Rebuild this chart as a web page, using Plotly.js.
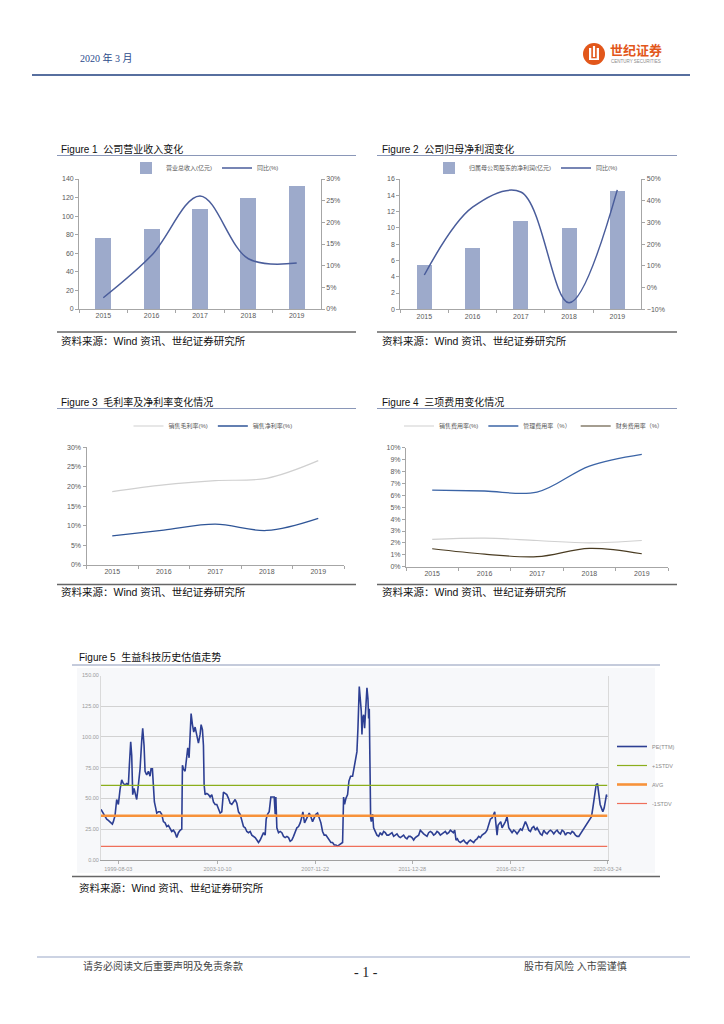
<!DOCTYPE html>
<html><head><meta charset="utf-8">
<script src="https://cdn.plot.ly/plotly-3.0.1.min.js"></script>
<style>html,body{margin:0;padding:0;background:#fff;}#chart{width:724px;height:1024px;}</style>
</head><body><div id="chart"></div>
<script>
// ---------- data ----------
const years = ['2015', '2016', '2017', '2018', '2019'];
const revenue = [76, 86, 108, 119.5, 132.5];
const revenueYoY = [0.026, 0.124, 0.261, 0.116, 0.106];
const netProfit = [5.5, 7.5, 10.8, 10.0, 14.5];
const netProfitYoY = [0.058, 0.37, 0.44, -0.07, 0.45];
const grossMargin = [0.187, 0.204, 0.215, 0.221, 0.266];
const netMargin = [0.074, 0.089, 0.104, 0.088, 0.119];
const sellingRate = [0.023, 0.024, 0.022, 0.020, 0.022];
const adminRate = [0.0644, 0.0636, 0.0627, 0.0846, 0.0944];
const financeRate = [0.0151, 0.0106, 0.0084, 0.0154, 0.0109];

const peTime = [1998.855,1998.954,1999.024,1999.095,1999.165,1999.236,1999.306,1999.334,1999.376,1999.447,1999.517,1999.588,1999.658,1999.728,1999.799,1999.869,1999.940,2000.010,2000.052,2000.108,2000.151,2000.193,2000.249,2000.291,2000.362,2000.432,2000.503,2000.573,2000.615,2000.672,2000.714,2000.784,2000.855,2000.925,2000.967,2001.024,2001.066,2001.108,2001.164,2001.207,2001.277,2001.347,2001.418,2001.488,2001.559,2001.629,2001.699,2001.770,2001.840,2001.911,2001.981,2002.051,2002.122,2002.192,2002.263,2002.291,2002.333,2002.403,2002.474,2002.516,2002.572,2002.615,2002.657,2002.713,2002.769,2002.826,2002.896,2002.966,2003.037,2003.079,2003.135,2003.178,2003.206,2003.248,2003.318,2003.389,2003.459,2003.530,2003.600,2003.670,2003.741,2003.811,2003.882,2003.952,2004.022,2004.093,2004.163,2004.234,2004.304,2004.375,2004.445,2004.515,2004.586,2004.656,2004.727,2004.797,2004.867,2004.938,2005.008,2005.079,2005.149,2005.219,2005.290,2005.360,2005.431,2005.501,2005.571,2005.642,2005.712,2005.782,2005.825,2005.881,2005.951,2006.022,2006.092,2006.163,2006.205,2006.233,2006.275,2006.346,2006.416,2006.486,2006.557,2006.627,2006.698,2006.768,2006.838,2006.909,2006.979,2007.050,2007.120,2007.190,2007.261,2007.331,2007.373,2007.444,2007.514,2007.585,2007.641,2007.711,2007.782,2007.852,2007.922,2007.993,2008.063,2008.134,2008.204,2008.274,2008.345,2008.415,2008.486,2008.556,2008.626,2008.697,2008.767,2008.838,2008.908,2008.978,2009.049,2009.091,2009.133,2009.190,2009.260,2009.316,2009.387,2009.471,2009.528,2009.584,2009.654,2009.697,2009.725,2009.753,2009.795,2009.837,2009.866,2009.894,2009.936,2009.978,2010.035,2010.077,2010.119,2010.147,2010.175,2010.203,2010.232,2010.260,2010.316,2010.358,2010.429,2010.499,2010.570,2010.640,2010.710,2010.780,2010.851,2010.921,2010.992,2011.062,2011.133,2011.203,2011.273,2011.344,2011.414,2011.485,2011.555,2011.625,2011.696,2011.766,2011.837,2011.907,2011.977,2012.048,2012.118,2012.189,2012.259,2012.329,2012.400,2012.470,2012.540,2012.611,2012.681,2012.752,2012.822,2012.893,2012.963,2013.033,2013.104,2013.174,2013.244,2013.315,2013.385,2013.456,2013.526,2013.596,2013.667,2013.723,2013.779,2013.836,2013.892,2013.948,2014.018,2014.089,2014.160,2014.230,2014.300,2014.371,2014.441,2014.512,2014.582,2014.652,2014.722,2014.793,2014.863,2014.934,2015.004,2015.074,2015.144,2015.215,2015.285,2015.356,2015.426,2015.468,2015.525,2015.567,2015.609,2015.665,2015.722,2015.778,2015.848,2015.919,2015.989,2016.060,2016.130,2016.200,2016.271,2016.341,2016.412,2016.482,2016.552,2016.623,2016.693,2016.763,2016.834,2016.904,2016.975,2017.045,2017.115,2017.186,2017.256,2017.327,2017.397,2017.467,2017.538,2017.608,2017.678,2017.749,2017.819,2017.890,2017.960,2018.031,2018.101,2018.171,2018.242,2018.312,2018.383,2018.453,2018.524,2018.594,2018.664,2018.734,2018.805,2018.875,2018.946,2019.016,2019.087,2019.157,2019.227,2019.298,2019.368,2019.438,2019.495,2019.551,2019.607,2019.692,2019.748,2019.804,2019.861,2019.917,2019.973,2020.030,2020.086,2020.142,2020.185,2020.227];
const peValue = [41,38,35,33,32,31,30,29,31,36,49,45,57,65,62,61,62,61,77,96,85,53,58,54,49,61,74,97,107,93,72,69,72,68,74,74,58,47,42,38,39,39,37,31,30,27,28,26,23,24,22,18,22,24,25,77,74,72,85,91,83,107,119,110,104,108,100,95,102,110,106,93,61,53,54,53,51,53,47,45,45,42,38,39,55,54,53,50,46,45,47,49,46,39,37,31,27,26,23,22,23,20,19,18,16,14,16,19,22,20,33,37,39,51,51,51,37,51,26,22,23,22,19,18,19,18,15,16,19,23,26,27,30,35,39,30,33,37,38,35,31,34,37,38,34,30,23,20,20,18,15,14,14,12,12,11,12,13,14,51,45,50,53,64,68,68,74,80,88,107,123,141,131,121,102,115,118,107,126,140,131,115,123,74,34,31,37,26,23,20,19,22,20,23,22,20,20,21,22,19,20,21,19,18,19,20,18,17,19,19,18,16,18,19,20,24,22,21,20,19,22,23,22,20,21,23,22,20,21,22,23,21,22,24,23,22,24,16,17,15,14,15,16,14,13,15,16,15,14,16,17,19,18,20,21,22,24,28,33,34,37,39,28,20,28,30,31,26,28,31,35,26,24,22,24,23,21,23,25,24,27,31,28,24,23,26,27,24,26,23,21,20,24,22,21,23,24,23,21,23,24,22,21,24,23,20,22,22,21,23,22,20,19,19,21,23,25,28,29,31,33,35,42,55,61,62,53,45,42,39,42,47,53,51];
const peStdPlus = 60.6;
const peAvg = 35.8;
const peStdMinus = 10.9;
const peTickTimes = [1999.586, 2003.775, 2007.893, 2011.990, 2016.129, 2020.227];
const peTickLabels = ['1999-08-03', '2003-10-10', '2007-11-22', '2011-12-28', '2016-02-17', '2020-03-24'];

// ---------- helpers ----------
const W = 724, H = 1024;
const px = v => v / W;
const py = v => 1 - v / H;
const SANS = 'Liberation Sans, Arial, Noto Sans CJK SC, sans-serif';
const CJK = 'Liberation Sans, Noto Sans CJK SC, sans-serif';
const AX = '#A6A6A6';
const TICKF = {family: SANS, size: 7, color: '#595959'};

function ann(text, x, y, size, color, extra) {
  return Object.assign({text: text, xref: 'paper', yref: 'paper', x: px(x), y: py(y),
    xanchor: 'left', yanchor: 'middle', showarrow: false,
    font: {family: CJK, size: size, color: color}}, extra || {});
}
function hline(x0, x1, y, color, width) {
  return {type: 'line', xref: 'paper', yref: 'paper', x0: px(x0), x1: px(x1), y0: py(y), y1: py(y),
    line: {color: color, width: width}};
}
function rect(x0, x1, y0, y1, fill, layer) {
  return {type: 'rect', xref: 'paper', yref: 'paper', x0: px(x0), x1: px(x1), y0: py(y1), y1: py(y0),
    fillcolor: fill, line: {width: 0}, layer: layer || 'below'};
}
function catAxis(d0, d1, anchor) {
  return {domain: [px(d0), px(d1)], anchor: anchor, type: 'category', range: [-0.5, 4.5],
    showline: true, linecolor: AX, linewidth: 1, ticks: 'outside', ticklen: 3, tickcolor: AX,
    tickson: 'boundaries', tickfont: TICKF, showgrid: false, zeroline: false, fixedrange: true};
}
function valAxis(top, bottom, anchor, range, dtick, fmt, extra) {
  return Object.assign({domain: [py(bottom), py(top)], anchor: anchor, range: range, dtick: dtick,
    tickformat: fmt, showline: true, linecolor: AX, linewidth: 1, ticks: 'outside', ticklen: 3,
    tickcolor: AX, tickfont: TICKF, showgrid: false, zeroline: false, fixedrange: true}, extra || {});
}
function legendAt(x, y, extra) {
  return Object.assign({x: px(x), y: py(y), xanchor: 'center', yanchor: 'middle', orientation: 'h',
    font: {family: CJK, size: 6, color: '#595959'}, bgcolor: 'rgba(0,0,0,0)', itemwidth: 30,
    tracegroupgap: 0, itemclick: false}, extra || {});
}

const barColor = '#9DAACB';
const lineBlue = '#4A5D9B';

const traces = [
  // Figure 1
  {type: 'bar', x: years, y: revenue, xaxis: 'x', yaxis: 'y', width: 0.33,
   marker: {color: barColor}, name: '营业总收入(亿元)', legend: 'legend'},
  {type: 'scatter', mode: 'lines', x: years, y: revenueYoY, xaxis: 'x', yaxis: 'y2',
   line: {color: lineBlue, width: 1.5, shape: 'spline', smoothing: 1}, name: '同比(%)', legend: 'legend'},
  // Figure 2
  {type: 'bar', x: years, y: netProfit, xaxis: 'x3', yaxis: 'y3', width: 0.31,
   marker: {color: barColor}, name: '归属母公司股东的净利润(亿元)', legend: 'legend2'},
  {type: 'scatter', mode: 'lines', x: years, y: netProfitYoY, xaxis: 'x3', yaxis: 'y4',
   line: {color: lineBlue, width: 1.5, shape: 'spline', smoothing: 1}, name: '同比(%)', legend: 'legend2'},
  // Figure 3
  {type: 'scatter', mode: 'lines', x: years, y: grossMargin, xaxis: 'x5', yaxis: 'y5',
   line: {color: '#D0D0D0', width: 1.2, shape: 'spline', smoothing: 1}, name: '销售毛利率(%)', legend: 'legend3'},
  {type: 'scatter', mode: 'lines', x: years, y: netMargin, xaxis: 'x5', yaxis: 'y5',
   line: {color: '#2F5597', width: 1.3, shape: 'spline', smoothing: 1}, name: '销售净利率(%)', legend: 'legend3'},
  // Figure 4
  {type: 'scatter', mode: 'lines', x: years, y: sellingRate, xaxis: 'x6', yaxis: 'y6',
   line: {color: '#D0D0D0', width: 1.2, shape: 'spline', smoothing: 1}, name: '销售费用率(%)', legend: 'legend4'},
  {type: 'scatter', mode: 'lines', x: years, y: adminRate, xaxis: 'x6', yaxis: 'y6',
   line: {color: '#3B64A6', width: 1.3, shape: 'spline', smoothing: 1}, name: '管理费用率（%）', legend: 'legend4'},
  {type: 'scatter', mode: 'lines', x: years, y: financeRate, xaxis: 'x6', yaxis: 'y6',
   line: {color: '#4A3C22', width: 1.2, shape: 'spline', smoothing: 1}, name: '财务费用率（%）', legend: 'legend4'},
  // Figure 5
  {type: 'scatter', mode: 'lines', x: peTime, y: peValue, xaxis: 'x7', yaxis: 'y7',
   line: {color: '#2D3F93', width: 1.6}, name: 'PE(TTM)', legend: 'legend5'},
  {type: 'scatter', mode: 'lines', x: [peTime[0], peTime[peTime.length - 1]], y: [peStdPlus, peStdPlus],
   xaxis: 'x7', yaxis: 'y7', line: {color: '#8BAE1C', width: 1.2}, name: '+1STDV', legend: 'legend5'},
  {type: 'scatter', mode: 'lines', x: [peTime[0], peTime[peTime.length - 1]], y: [peAvg, peAvg],
   xaxis: 'x7', yaxis: 'y7', line: {color: '#F7923A', width: 2.6}, name: 'AVG', legend: 'legend5'},
  {type: 'scatter', mode: 'lines', x: [peTime[0], peTime[peTime.length - 1]], y: [peStdMinus, peStdMinus],
   xaxis: 'x7', yaxis: 'y7', line: {color: '#EF6F5A', width: 1.2}, name: '-1STDV', legend: 'legend5'}
];

const layout = {
  width: W, height: H, margin: {l: 0, r: 0, t: 0, b: 0},
  paper_bgcolor: '#ffffff', plot_bgcolor: 'rgba(0,0,0,0)',
  font: {family: SANS, size: 7, color: '#595959'},
  showlegend: true, hovermode: false, bargap: 0,
  // Figure 1
  xaxis: catAxis(79.1, 320.9, 'y'),
  yaxis: valAxis(179, 309, 'x', [0, 140], 20, ''),
  yaxis2: valAxis(179, 309, 'x', [0, 0.30], 0.05, '.0%', {overlaying: 'y', side: 'right'}),
  // Figure 2
  xaxis3: catAxis(400.2, 641.4, 'y3'),
  yaxis3: valAxis(179, 309.3, 'x3', [0, 16], 2, ''),
  yaxis4: valAxis(179, 309.3, 'x3', [-0.10, 0.50], 0.10, '.0%', {overlaying: 'y3', side: 'right'}),
  // Figure 3
  xaxis5: catAxis(86.5, 344, 'y5'),
  yaxis5: valAxis(447.3, 565, 'x5', [0, 0.30], 0.05, '.0%'),
  // Figure 4
  xaxis6: catAxis(406, 668, 'y6'),
  yaxis6: valAxis(447.7, 566.7, 'x6', [0, 0.10], 0.01, '.0%'),
  // Figure 5
  xaxis7: {domain: [px(101), px(607.5)], anchor: 'y7', range: [peTime[0], peTickTimes[5]],
    tickmode: 'array', tickvals: peTickTimes, ticktext: peTickLabels,
    showline: true, linecolor: '#A0A0A0', linewidth: 1.5, ticks: 'outside', ticklen: 3, tickcolor: '#B0B0B0',
    tickfont: {family: SANS, size: 5.5, color: '#9A9A9A'}, showgrid: false, zeroline: false, fixedrange: true},
  yaxis7: {domain: [py(859.7), py(675.5)], anchor: 'x7', range: [0, 150], dtick: 25, tickformat: '.2f',
    showline: true, mirror: true, linecolor: '#DADADA', linewidth: 1, ticks: '',
    showgrid: true, gridcolor: '#D2D2D2', gridwidth: 1, zeroline: false,
    tickfont: {family: SANS, size: 5.5, color: '#9A9A9A'}, fixedrange: true},
  legend: legendAt(205, 168),
  legend2: legendAt(526, 168),
  legend3: legendAt(213, 426),
  legend4: legendAt(534, 426),
  legend5: {x: px(612), y: py(775), xanchor: 'left', yanchor: 'middle', orientation: 'v',
    font: {family: SANS, size: 5.5, color: '#8A8A8A'}, bgcolor: 'rgba(0,0,0,0)', itemwidth: 30,
    tracegroupgap: 0, itemclick: false},
  shapes: [
    // header & footer
    hline(32, 690, 75, '#1F3F7F', 1.5),
    hline(37, 690, 957, '#9AA8C8', 1.2),
    // logo
    {type: 'circle', xref: 'paper', yref: 'paper', x0: px(583), x1: px(605), y0: py(65), y1: py(43),
     fillcolor: '#E2571B', line: {width: 0}, layer: 'above'},
    rect(589, 591.3, 48, 60, '#ffffff', 'above'),
    rect(596.7, 599, 48, 60, '#ffffff', 'above'),
    rect(592.9, 595.1, 46, 57, '#ffffff', 'above'),
    rect(589, 599, 58.3, 60, '#ffffff', 'above'),
    // figure rules
    hline(57, 356, 155.5, '#8A97B8', 1),
    hline(57, 356, 332, '#666666', 1.5),
    hline(377, 677, 155.5, '#8A97B8', 1),
    hline(377, 677, 332, '#666666', 1.5),
    hline(57, 356, 408.5, '#8A97B8', 1),
    hline(57, 356, 584.5, '#666666', 1.5),
    hline(377, 677, 408.5, '#8A97B8', 1),
    hline(377, 677, 584.5, '#666666', 1.5),
    hline(72, 660, 665, '#8A97B8', 1),
    rect(77, 655, 668, 873, '#F7F8FA'),
    hline(72, 660, 876.5, '#666666', 1.5)
  ],
  annotations: [
    ann('2020 年 3 月', 78, 58, 10, '#2B4A8B', {font: {family: 'Liberation Serif, Noto Sans CJK SC, serif', size: 10, color: '#2B4A8B'}}),
    ann('<b>世纪证券</b>', 608, 50, 13, '#E2571B'),
    ann('CENTURY SECURITIES', 609, 61.5, 4.5, '#8A8A8A'),
    ann('Figure 1  公司营业收入变化', 59, 148.5, 10, '#111111'),
    ann('Figure 2  公司归母净利润变化', 380, 148.5, 10, '#111111'),
    ann('Figure 3  毛利率及净利率变化情况', 59, 401.5, 10, '#111111'),
    ann('Figure 4  三项费用变化情况', 380, 401.5, 10, '#111111'),
    ann('Figure 5  生益科技历史估值走势', 77, 657, 10, '#111111'),
    ann('资料来源：Wind 资讯、世纪证券研究所', 59, 340.5, 10.5, '#111111'),
    ann('资料来源：Wind 资讯、世纪证券研究所', 380, 340.5, 10.5, '#111111'),
    ann('资料来源：Wind 资讯、世纪证券研究所', 59, 592, 10.5, '#111111'),
    ann('资料来源：Wind 资讯、世纪证券研究所', 380, 592, 10.5, '#111111'),
    ann('资料来源：Wind 资讯、世纪证券研究所', 77, 888, 10.5, '#111111'),
    ann('请务必阅读文后重要声明及免责条款', 81, 966, 10, '#444444'),
    ann('- 1 -', 366, 972, 14, '#222222', {xanchor: 'center', font: {family: 'Liberation Serif, serif', size: 14, color: '#222222'}}),
    ann('股市有风险 入市需谨慎', 522, 966, 10, '#444444')
  ]
};

Plotly.newPlot('chart', traces, layout, {displayModeBar: false, staticPlot: true});
</script>
</body></html>
